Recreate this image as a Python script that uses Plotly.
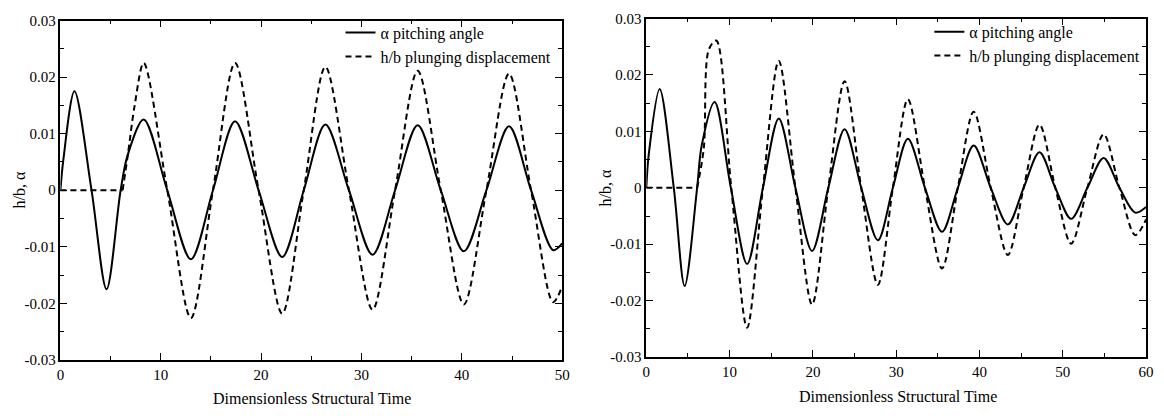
import plotly.graph_objects as go

# ---------------- data ----------------
# Left panel (0..50)
t_alpha_left = [0, 0.3, 1.4, 3.1, 4.6, 6.0, 6.7, 8.3, 10.65, 13.0, 15.2, 17.4, 19.75, 22.1,
                24.25, 26.4, 28.75, 31.1, 33.35, 35.6, 37.9, 40.2, 42.45, 44.7, 46.9, 49.1, 50]
alpha_left = [0, 0.0055, 0.0175, 0, -0.0175, 0, 0.0062, 0.0125, 0, -0.0122, 0, 0.0122, 0, -0.0118,
              0, 0.0116, 0, -0.0114, 0, 0.0115, 0, -0.0108, 0, 0.0113, 0, -0.0106, -0.0094]

t_h_left_rest = [0, 6.2]
h_left_rest = [0, 0]
t_h_left = [6.2, 6.7, 7.4, 8.3, 10.65, 13.0, 15.2, 17.4, 19.75, 22.1, 24.25, 26.4,
            28.75, 31.1, 33.35, 35.6, 37.9, 40.2, 42.45, 44.7, 46.9, 49.1, 50]
h_left = [0, 0.006, 0.015, 0.0225, 0, -0.0226, 0, 0.0225, 0, -0.0218, 0, 0.0218,
          0, -0.0211, 0, 0.0211, 0, -0.0202, 0, 0.0206, 0, -0.0198, -0.017]

# Right panel (0..60)
t_alpha_right = [0, 0.3, 1.6, 3.3, 4.6, 6.1, 6.65, 8.2, 10.15, 12.1, 14.0, 15.9, 17.9, 19.9,
                 21.85, 23.8, 25.8, 27.8, 29.6, 31.4, 33.45, 35.5, 37.4, 39.3, 41.35, 43.4,
                 45.3, 47.2, 49.1, 51.0, 52.95, 54.9, 56.8, 58.7, 60]
alpha_right = [0, 0.006, 0.0175, 0, -0.0174, 0, 0.0075, 0.0152, 0, -0.0135, 0, 0.0123, 0, -0.0112,
               0, 0.0104, 0, -0.0093, 0, 0.0087, 0, -0.0078, 0, 0.0075, 0, -0.0065,
               0, 0.0063, 0, -0.0055, 0, 0.0053, 0, -0.0044, -0.0034]

t_h_right_rest = [0, 6.1]
h_right_rest = [0, 0]
t_h_right = [6.1, 6.9, 7.5, 8.4, 10.2, 12.1, 14.0, 15.9, 17.9, 19.9, 21.85, 23.8, 25.8,
             27.8, 29.6, 31.4, 33.45, 35.5, 37.4, 39.3, 41.35, 43.4, 45.3, 47.2, 49.1, 51.0,
             52.95, 54.9, 56.8, 58.7, 60]
h_right = [0, 0.007, 0.0245, 0.0261, 0, -0.0248, 0, 0.0225, 0, -0.0207, 0, 0.0189, 0,
           -0.0172, 0, 0.0157, 0, -0.0143, 0, 0.0135, 0, -0.0119, 0, 0.0112, 0, -0.0099,
           0, 0.0095, 0, -0.0084, -0.0056]

y_ticks = [-0.03, -0.02, -0.01, 0, 0.01, 0.02, 0.03]
y_tick_labels = ["-0.03", "-0.02", "-0.01", "0", "0.01", "0.02", "0.03"]
x_ticks_left = [0, 10, 20, 30, 40, 50]
x_ticks_right = [0, 10, 20, 30, 40, 50, 60]

name_alpha = "\u03b1 pitching angle"
name_h = "h/b plunging displacement"
x_title = "Dimensionless Structural Time"
y_title = "h/b, \u03b1"

FONT = "Liberation Serif"
W, H = 1164, 416
DASH = "6px,4px"

fig = go.Figure()

def add_pair(ta, a, th_rest, h_rest, th, h, xa, ya, leg, grp):
    fig.add_trace(go.Scatter(x=ta, y=a, mode="lines", name=name_alpha,
                             line=dict(color="black", width=2, shape="spline", smoothing=0.9),
                             xaxis=xa, yaxis=ya, legend=leg))
    fig.add_trace(go.Scatter(x=th, y=h, mode="lines", name=name_h, legendgroup=grp,
                             line=dict(color="black", width=2, dash=DASH,
                                       shape="spline", smoothing=0.9),
                             xaxis=xa, yaxis=ya, legend=leg))
    fig.add_trace(go.Scatter(x=th_rest, y=h_rest, mode="lines", name=name_h, legendgroup=grp,
                             showlegend=False,
                             line=dict(color="black", width=2, dash=DASH),
                             xaxis=xa, yaxis=ya, legend=leg))

add_pair(t_alpha_left, alpha_left, t_h_left_rest, h_left_rest, t_h_left, h_left,
         "x", "y", "legend", "hL")
add_pair(t_alpha_right, alpha_right, t_h_right_rest, h_right_rest, t_h_right, h_right,
         "x2", "y2", "legend2", "hR")

def xdom(a, b):
    return [a / W, b / W]

def ydom(top, bottom):
    return [1 - bottom / H, 1 - top / H]

minor_common = dict(ticklen=4, ticks="inside", tickcolor="black", tickwidth=1.3)
axis_common = dict(showline=True, linecolor="black", linewidth=1.5, mirror="ticks",
                   ticks="inside", ticklen=7, tickwidth=1.3, tickcolor="black",
                   showgrid=False, zeroline=False,
                   tickfont=dict(family=FONT, size=15, color="black"))

fig.update_layout(
    width=W, height=H,
    margin=dict(l=0, r=0, t=0, b=0),
    paper_bgcolor="white", plot_bgcolor="white",
    font=dict(family=FONT, size=15, color="black"),
    xaxis=dict(domain=xdom(57, 564), range=[0, 50], tickvals=x_ticks_left, anchor="y",
               minor=dict(dtick=5, **minor_common), **axis_common),
    yaxis=dict(domain=ydom(13, 366), range=[-0.03, 0.03], tickvals=y_ticks,
               ticktext=y_tick_labels, anchor="x",
               minor=dict(dtick=0.005, **minor_common), **axis_common),
    xaxis2=dict(domain=xdom(649, 1154), range=[0, 60], tickvals=x_ticks_right, anchor="y2",
                minor=dict(dtick=5, **minor_common), **axis_common),
    yaxis2=dict(domain=ydom(11, 363), range=[-0.03, 0.03], tickvals=y_ticks,
                ticktext=y_tick_labels, anchor="x2",
                minor=dict(dtick=0.005, **minor_common), **axis_common),
    legend=dict(x=340 / W, y=1 - 8 / H, xanchor="left", yanchor="top",
                bgcolor="rgba(0,0,0,0)", font=dict(family=FONT, size=16, color="black"),
                tracegroupgap=0, itemwidth=30),
    legend2=dict(x=935 / W, y=1 - 7 / H, xanchor="left", yanchor="top",
                 bgcolor="rgba(0,0,0,0)", font=dict(family=FONT, size=16, color="black"),
                 tracegroupgap=0, itemwidth=30),
    showlegend=True,
)

title_font = dict(family=FONT, size=16, color="black")
annotations = [
    dict(text=x_title, x=311 / W, y=1 - 406 / H, xref="paper", yref="paper",
         xanchor="center", yanchor="middle", showarrow=False, font=title_font),
    dict(text=x_title, x=903 / W, y=1 - 404 / H, xref="paper", yref="paper",
         xanchor="center", yanchor="middle", showarrow=False, font=title_font),
    dict(text=y_title, x=16 / W, y=1 - 189 / H, xref="paper", yref="paper", textangle=-90,
         xanchor="center", yanchor="middle", showarrow=False, font=title_font),
    dict(text=y_title, x=608 / W, y=1 - 187 / H, xref="paper", yref="paper", textangle=-90,
         xanchor="center", yanchor="middle", showarrow=False, font=title_font),
]
fig.update_layout(annotations=annotations)

fig.write_html("out.html", config={"displayModeBar": False},
               post_script="document.body.style.margin='0';")
